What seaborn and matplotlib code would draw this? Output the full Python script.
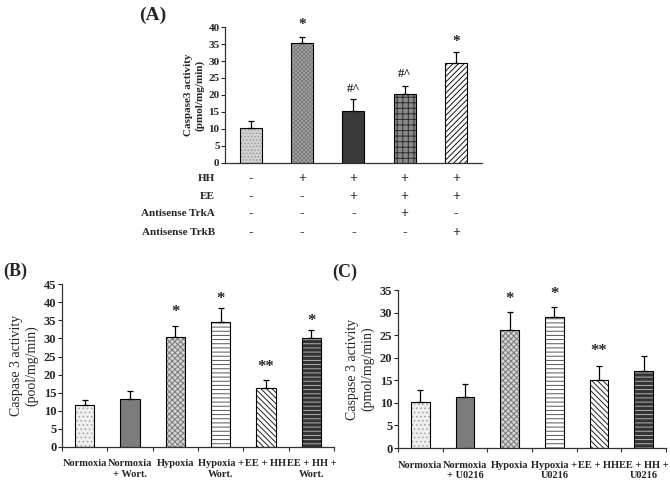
import matplotlib
matplotlib.use('Agg')
import matplotlib.pyplot as plt
import seaborn as sns
import pandas as pd
import numpy as np

# panel A
a_groups = ["g1", "g2", "g3", "g4", "g5"]
a_vals = [10.3, 35.2, 15.3, 20.2, 29.4]
a_err = [2.1, 1.8, 3.4, 2.5, 3.3]
a_marks = ["", "*", "#^", "#^", "*"]
a_mark_y = [0, 40.7, 21.7, 26.2, 35.7]
a_rows = ["HH", "EE", "Antisense TrkA", "Antisense TrkB"]
a_table = [["-", "+", "+", "+", "+"],
           ["-", "-", "+", "+", "+"],
           ["-", "-", "-", "+", "-"],
           ["-", "-", "-", "-", "+"]]

# panel B
b_labels = ["Normoxia", "Normoxia\n+ Wort.", "Hypoxia", "Hypoxia +\nWort.", "EE + HH", "EE + HH +\nWort."]
b_vals = [11.7, 13.3, 30.3, 34.4, 16.2, 30.1]
b_err = [1.2, 2.1, 3.2, 4.0, 2.3, 2.2]
b_marks = ["", "", "*", "*", "**", "*"]
b_mark_y = [0, 0, 37.2, 40.8, 22.0, 34.8]

# panel C
c_labels = ["Normoxia", "Normoxia\n+ U0216", "Hypoxia", "Hypoxia +\nU0216", "EE + HH", "EE + HH +\nU0216"]
c_vals = [10.1, 11.2, 26.1, 29.1, 15.1, 17.1]
c_err = [2.8, 3.0, 4.0, 2.1, 3.0, 3.3]
c_marks = ["", "", "*", "*", "**", ""]
c_mark_y = [0, 0, 33.0, 34.1, 21.6, 0]

a_styles = [("#d2d2d2", "#9a9a9a", "....."),
            ("#a8a8a8", "#7a7a7a", "xxxxxxxx"),
            ("#3a3a3a", None, ""),
            ("#8a8a8a", "#2e2e2e", "+++"),
            ("#ffffff", "#111111", "//////")]
bc_styles = [("#f0f0f0", "#a8a8a8", "...."),
             ("#7c7c7c", None, ""),
             ("#d6d6d6", "#7a7a7a", "xxxxxx"),
             ("#ffffff", "#555555", "----"),
             ("#ffffff", "#222222", "\\\\\\\\\\\\"),
             ("#333333", "#b0b0b0", "----")]

sns.set_style("ticks")
plt.rcParams['font.family'] = ['Liberation Serif', 'DejaVu Serif']
plt.rcParams['hatch.linewidth'] = 0.7

fig = plt.figure(figsize=(6.7, 4.92), dpi=100)
ax_a = fig.add_axes([0.336, 0.669, 0.383, 0.276])
ax_b = fig.add_axes([0.0925, 0.0915, 0.406, 0.331])
ax_c = fig.add_axes([0.594, 0.0894, 0.40, 0.321])


def draw_bars(ax, names, vals, err, styles, width):
    df = pd.DataFrame({"group": names, "value": vals})
    sns.barplot(data=df, x="group", y="value", ax=ax, width=width,
                color="white", errorbar=None, linewidth=0)
    for patch, (face, hc, hatch) in zip(ax.patches, styles):
        patch.set_facecolor(face)
        if hatch:
            patch.set_hatch(hatch)
            patch.set_edgecolor(hc)
        else:
            patch.set_edgecolor(face)
    pos = np.arange(len(vals))
    # outlines on top of the hatching
    ax.bar(pos, vals, width=width, fill=False, edgecolor="black", linewidth=0.8, zorder=3)
    ax.errorbar(pos, vals, yerr=[np.zeros(len(err)), err], fmt="none",
                ecolor="black", elinewidth=0.9, capsize=2, capthick=0.9, zorder=2)
    ax.set_xlim(-0.5, len(vals) - 0.5)
    for side in ["top", "right"]:
        ax.spines[side].set_visible(False)
    for side in ["left", "bottom"]:
        ax.spines[side].set_color("#333333")
        ax.spines[side].set_linewidth(0.9)
    ax.set_xlabel("")


# (A)
draw_bars(ax_a, a_groups, a_vals, a_err, a_styles, 0.43)
ax_a.set_ylim(0, 40)
ax_a.set_yticks(range(0, 41, 5))
ax_a.tick_params(axis="y", labelsize=8, length=3, width=0.8, pad=1)
for t in ax_a.get_yticklabels():
    t.set_fontweight("bold")
ax_a.set_xticks([])
ax_a.set_ylabel("Caspase3 activity\n(pmol/mg/min)", fontsize=8, fontweight="bold", labelpad=3)
for i, (m, y) in enumerate(zip(a_marks, a_mark_y)):
    if m:
        ax_a.text(i, y, m, ha="center", va="center", fontsize=11 if m == "*" else 9,
                  fontweight="bold", clip_on=False)
row_y = [-0.118, -0.25, -0.375, -0.515]
for r, (name, y) in enumerate(zip(a_rows, row_y)):
    ax_a.text(-0.04, y, name, transform=ax_a.transAxes, ha="right", va="center",
              fontsize=8, fontweight="bold")
    for i, s in enumerate(a_table[r]):
        ax_a.text(i, y, s, transform=ax_a.get_xaxis_transform(), ha="center", va="center",
                  fontsize=10, fontweight="bold")
fig.text(0.228, 0.968, "(A)", fontsize=14, fontweight="bold", ha="center", va="center")


def draw_bc(ax, labels, vals, err, marks, mark_y, top, ylabel):
    draw_bars(ax, labels, vals, err, bc_styles, 0.42)
    ax.set_ylim(0, top)
    ax.set_yticks(range(0, top + 1, 5))
    ax.set_xticks(range(len(labels)))
    ax.set_xticklabels(labels, fontsize=7.5, fontweight="bold")
    ax.tick_params(axis="x", length=0, pad=9)
    ax.set_xticks(np.arange(-0.5, len(labels), 1.0), minor=True)
    ax.tick_params(axis="x", which="minor", length=3, width=0.8, color="#333333")
    ax.tick_params(axis="y", labelsize=9, length=3, width=0.8, pad=1)
    for t in ax.get_yticklabels():
        t.set_fontweight("bold")
    ax.set_ylabel(ylabel, fontsize=10, labelpad=4)
    for i, (m, y) in enumerate(zip(marks, mark_y)):
        if m:
            ax.text(i, y, m, ha="center", va="center", fontsize=12, fontweight="bold",
                    clip_on=False)


draw_bc(ax_b, b_labels, b_vals, b_err, b_marks, b_mark_y, 45,
        "Caspase 3 activity\n(pool/mg/min)")
draw_bc(ax_c, c_labels, c_vals, c_err, c_marks, c_mark_y, 35,
        "Caspase 3 activity\n(pmol/mg/min)")
fig.text(0.023, 0.449, "(B)", fontsize=13, fontweight="bold", ha="center", va="center")
fig.text(0.514, 0.447, "(C)", fontsize=13, fontweight="bold", ha="center", va="center")

fig.savefig("out.png", dpi=100)
